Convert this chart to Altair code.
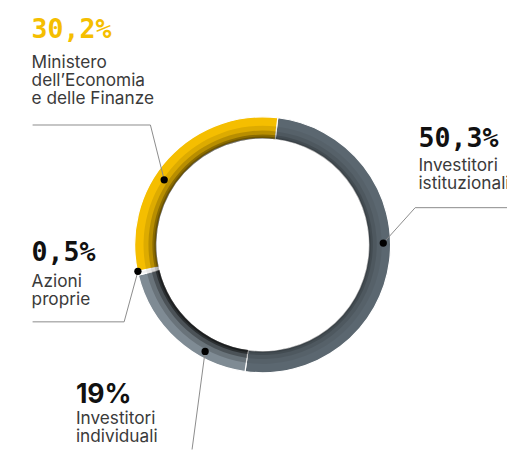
import math
import altair as alt
import pandas as pd

# ---- data ----
categories = ["Investitori istituzionali", "Investitori individuali", "Azioni proprie",
              "Ministero dell'Economia e delle Finanze"]
values = [50.3, 19.0, 0.5, 30.2]
label_lines = [["Investitori", "istituzionali"], ["Investitori", "individuali"],
               ["Azioni", "proprie"], ["Ministero", "dell\u2019Economia", "e delle Finanze"]]
colors = ["#5B6770", "#7F8B94", "#F2F2F2", "#F5BE00"]
shadow = [0.30, 0.95, 0.25, 0.55]

W, H = 507, 447
CX, CY = 258.7, 237.0
R_OUT, R_IN = 130, 108
A0 = math.radians(6.8)

starts, ends, acc = [], [], 0.0
for v in values:
    starts.append(acc)
    acc += v
    ends.append(acc)

df = pd.DataFrame({"category": categories, "value": values, "start": starts, "end": ends,
                   "shadow": shadow})

theta_scale = alt.Scale(domain=[0, 100], range=[A0, A0 + 2 * math.pi])
color_scale = alt.Scale(domain=categories, range=colors)

ring = alt.Chart(df).mark_arc(radius=R_OUT, radius2=R_IN, x=CX, y=CY,
                              stroke="white", strokeWidth=1.2).encode(
    theta=alt.Theta("start:Q", scale=theta_scale),
    theta2="end:Q",
    color=alt.Color("category:N", scale=color_scale, legend=None),
)

layers = [ring]
# inner shading bands (3D look)
for r_out, f in [(121, 0.18), (116, 0.30), (112, 0.45), (110, 0.4)]:
    shade = alt.Chart(df).transform_calculate(op=f"datum.shadow * {f}").mark_arc(
        radius=r_out, radius2=R_IN, x=CX, y=CY, color="black").encode(
        theta=alt.Theta("start:Q", scale=theta_scale),
        theta2="end:Q",
        opacity=alt.Opacity("op:Q", scale=None),
    )
    layers.append(shade)


def fmt(v):
    s = f"{v:.1f}".rstrip("0").rstrip(".")
    return s.replace(".", ",") + "%"


# ---- annotations (layout) ----
lay = {
    3: dict(x=24, y=27, ly=57, pts=[(25, 115.3), (144.7, 115.3), (158.7, 171)], color="#F5BE00",
            font="DejaVu Sans Mono"),
    0: dict(x=417, y=138, ly=162, pts=[(507, 199.3), (413.7, 199.3), (381.3, 235.3)], color="#111111",
            font="DejaVu Sans Mono"),
    2: dict(x=24, y=253, ly=280, pts=[(25, 315.3), (118, 315.3), (132, 264)], color="#111111",
            font="DejaVu Sans Mono"),
    1: dict(x=69, y=398, ly=419, pts=[(187, 445), (200.3, 345.3)], color="#111111",
            font="Inter"),
}

one = pd.DataFrame({"k": [0]})
for i, L in lay.items():
    num = pd.DataFrame({"t": [fmt(values[i])]})
    layers.append(alt.Chart(num).mark_text(
        align="left", baseline="alphabetic", x=L["x"], y=L["y"], font=L["font"],
        fontSize=27, fontWeight="bold", color=L["color"]).encode(text="t:N"))
    lab = pd.DataFrame({"t": ["\n".join(label_lines[i])]})
    layers.append(alt.Chart(lab).mark_text(
        align="left", baseline="alphabetic", x=L["x"], y=L["ly"], font="Inter",
        fontSize=17.5, lineBreak="\n", lineHeight=18.5, color="#3A3A3A").encode(text="t:N"))
    pts = L["pts"]
    for (x1, y1), (x2, y2) in zip(pts[:-1], pts[1:]):
        layers.append(alt.Chart(one).mark_rule(color="#8A8A8A", strokeWidth=1).encode(
            x=alt.value(x1), y=alt.value(y1), x2=alt.value(x2), y2=alt.value(y2)))
    dx, dy = pts[-1]
    layers.append(alt.Chart(one).mark_circle(color="black", size=55, opacity=1).encode(
        x=alt.value(dx), y=alt.value(dy)))

chart = alt.layer(*layers).properties(
    width=W, height=H, autosize=alt.AutoSizeParams(type="none"), padding=0
).configure_view(stroke=None)

chart.save("out.html", embed_options={"renderer": "svg", "actions": False})
